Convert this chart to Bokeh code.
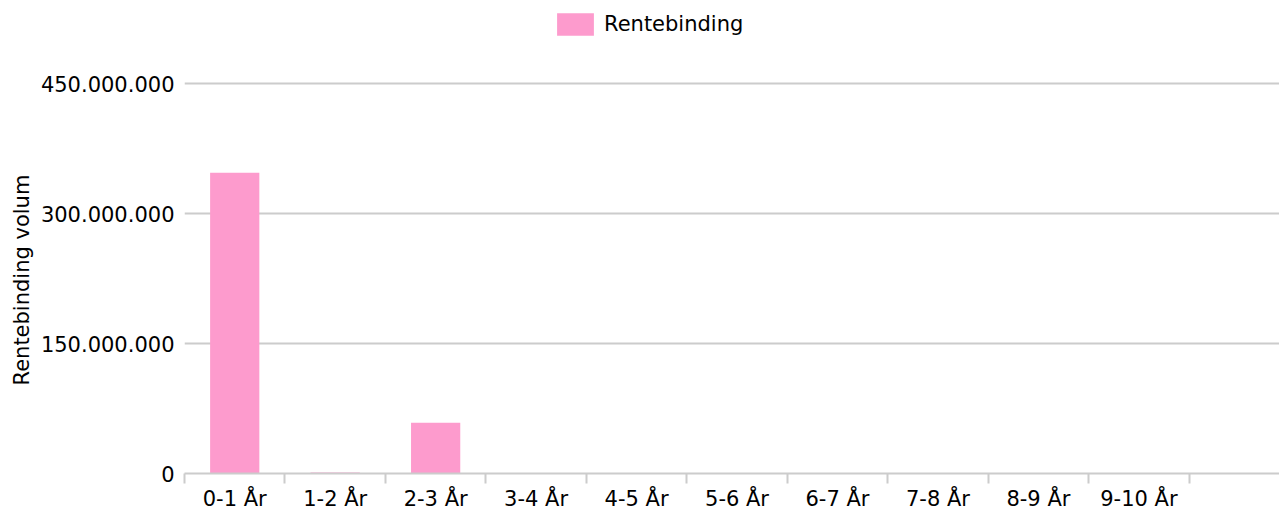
from bokeh.plotting import figure
from bokeh.models import Range1d, FixedTicker, Legend, LegendItem, ColumnDataSource, Title
from bokeh.embed import file_html
from bokeh.resources import INLINE

categories = ["0-1 År", "1-2 År", "2-3 År", "3-4 År", "4-5 År",
              "5-6 År", "6-7 År", "7-8 År", "8-9 År", "9-10 År"]
values = [347000000, 1200000, 58500000, 0, 0, 0, 0, 0, 0, 0]
y_ticks = [0, 150000000, 300000000, 450000000]
series_name = "Rentebinding"
y_title = "Rentebinding volum"

FONT = "DejaVu Sans"
FS = "21px"
GREY = "#cccccc"
PINK = "#fd9bcd"

# frame layout (pixels): plot area 390px for the value axis, extra headroom for legend
AXIS_PX = 390
FRAME_H = 465
y_top = max(y_ticks) * FRAME_H / AXIS_PX

xc = [i + 0.5 for i in range(len(categories))]
src = ColumnDataSource(dict(x=xc, top=values, cat=categories))

p = figure(frame_width=1095, frame_height=FRAME_H, output_backend="svg", toolbar_location=None,
           x_range=Range1d(0, 10.9), y_range=Range1d(0, y_top),
           min_border_left=184, min_border_right=0, min_border_top=8, min_border_bottom=0)
p.outline_line_color = None
p.background_fill_color = "white"
p.border_fill_color = "white"

r = p.vbar(x="x", top="top", width=0.49, source=src, fill_color=PINK, line_color=None)

# x axis
p.xaxis.ticker = FixedTicker(ticks=xc, minor_ticks=list(range(len(categories) + 1)))
p.xaxis.major_label_overrides = {x: c for x, c in zip(xc, categories)}
p.xaxis.major_tick_line_color = None
p.xaxis.major_tick_out = 10
p.xaxis.major_tick_in = 0
p.xaxis.minor_tick_out = 10
p.xaxis.minor_tick_in = 0
p.xaxis.minor_tick_line_color = GREY
p.xaxis.minor_tick_line_width = 2
p.xaxis.axis_line_color = GREY
p.xaxis.axis_line_width = 2
p.xaxis.major_label_standoff = 3
p.xaxis.major_label_text_font = FONT
p.xaxis.major_label_text_font_size = FS
p.xaxis.major_label_text_color = "#000000"

# y axis
p.yaxis.ticker = FixedTicker(ticks=y_ticks, minor_ticks=[])
p.yaxis.major_label_overrides = {v: f"{v:,}".replace(",", ".") for v in y_ticks}
p.yaxis.axis_line_color = None
p.yaxis.major_tick_line_color = None
p.yaxis.minor_tick_line_color = None
p.yaxis.major_tick_out = 0
p.yaxis.major_tick_in = 0
p.yaxis.major_label_standoff = 10
p.yaxis.major_label_text_font = FONT
p.yaxis.major_label_text_font_size = FS
p.yaxis.major_label_text_color = "#000000"

# y-axis title, positioned along the value span (frame has legend headroom above)
p.add_layout(Title(text=y_title, align="left", offset=88, standoff=8,
                   text_font=FONT, text_font_size=FS, text_font_style="normal",
                   text_color="#000000"), "left")

p.xgrid.visible = False
p.ygrid.ticker = FixedTicker(ticks=y_ticks, minor_ticks=[])
p.ygrid.grid_line_color = GREY
p.ygrid.grid_line_width = 2

legend = Legend(items=[LegendItem(label=series_name, renderers=[r])],
                location=(368, 435), orientation="horizontal",
                glyph_width=46, glyph_height=28, label_standoff=6,
                padding=0, margin=0, border_line_color=None, background_fill_alpha=0,
                label_text_font=FONT, label_text_font_size=FS, label_text_color="#000000")
p.add_layout(legend, "center")

open("out.html", "w").write(file_html(p, INLINE))
